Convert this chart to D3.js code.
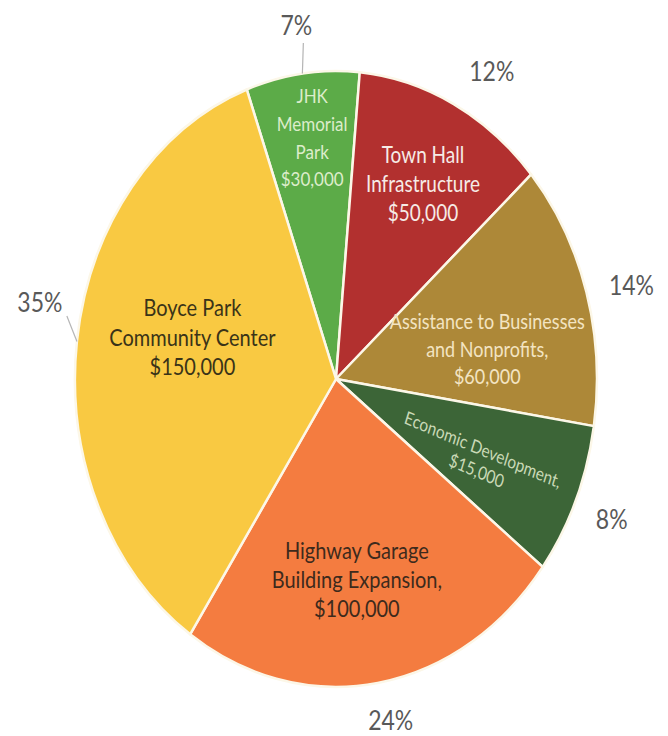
<!DOCTYPE html>
<html>
<head>
<meta charset="utf-8">
<script src="https://cdn.jsdelivr.net/npm/d3@7"></script>
<style>
  body { margin: 0; background: #fff; }
  svg { display: block; font-family: Lato, "Open Sans", sans-serif; }
</style>
</head>
<body>
<div id="chart"></div>
<script>
// Data
var categories = ["JHK Memorial Park", "Town Hall Infrastructure", "Assistance to Businesses and Nonprofits",
  "Economic Development", "Highway Garage Building Expansion", "Boyce Park Community Center"];
var shares = [7, 12, 14, 8, 24, 35];
var amounts = [30000, 50000, 60000, 15000, 100000, 150000];
var nameLines = [
  ["JHK", "Memorial", "Park"],
  ["Town Hall", "Infrastructure"],
  ["Assistance to Businesses", "and Nonprofits,"],
  ["Economic Development,"],
  ["Highway Garage", "Building Expansion,"],
  ["Boyce Park", "Community Center"]
];
var colors = ["#5cab48", "#b2302f", "#ad8838", "#3c6537", "#f47c40", "#f9c942"];
var textColors = ["#dcedcb", "#f6ebe6", "#f3e4c2", "#c9d9b6", "#3d2a1c", "#3a3318"];

// Layout
const svg = d3.select("#chart").append("svg").attr("width", 668).attr("height", 736);
const cx = 336, cy = 379, rx = 261, ry = 308;
const stretch = ry / rx;
const start = -20 * Math.PI / 180;

// per-label tweaks (Excel style manual placement)
const inner = [
  { dx: -3, dy: -52, size: 17, lh: 23.5, rot: 0 },
  { dx: 14, dy: -24, size: 19, lh: 24.6, rot: 0 },
  { dx: -4, dy: 24, size: 18, lh: 23.3, rot: 0 },
  { dx: -5, dy: 6, size: 15.5, lh: 19, rot: 19.6 },
  { dx: -5, dy: 12, size: 20, lh: 24.6, rot: 0 },
  { dx: 17, dy: -18, size: 20, lh: 25, rot: 0 }
];
const outer = [
  { dx: -2, dy: -11, leader: [7, 17] },
  { dx: 24, dy: 0 },
  { dx: 15, dy: 4 },
  { dx: 7, dy: 5 },
  { dx: 8, dy: 1 },
  { dx: -6, dy: -34, leader: [27, 13] }
];

const rows = categories.map((c, i) => ({ name: c, share: shares[i], amount: amounts[i], i: i }));

const pie = d3.pie().sort(null).value(d => d.share)
  .startAngle(start).endAngle(start + 2 * Math.PI);
const arcs = pie(rows);

const arc = d3.arc().innerRadius(0).outerRadius(1);
const arcIn = d3.arc().innerRadius(0.62).outerRadius(0.62);
const arcOut = d3.arc().innerRadius(1.12).outerRadius(1.12);
const arcEdge = d3.arc().innerRadius(1).outerRadius(1);

const toPx = p => [cx + p[0] * rx, cy + p[1] * ry];

// slices, drawn on a unit circle and stretched to the ellipse
svg.append("g")
  .attr("transform", `translate(${cx},${cy}) scale(${rx},${ry})`)
  .selectAll("path")
  .data(arcs)
  .join("path")
  .attr("d", arc)
  .attr("fill", d => colors[d.data.i])
  .attr("stroke", "#fcf7e8")
  .attr("stroke-width", 2.5)
  .attr("stroke-linejoin", "round")
  .attr("vector-effect", "non-scaling-stroke");

const fmt = d3.format("$,");

// inside labels
arcs.forEach(d => {
  const o = inner[d.data.i];
  const p = toPx(arcIn.centroid(d));
  const lines = nameLines[d.data.i].concat([fmt(d.data.amount)]);
  const g = svg.append("g")
    .attr("transform", `translate(${p[0] + o.dx},${p[1] + o.dy}) scale(1,${stretch}) rotate(${o.rot})`);
  const t = g.append("text")
    .attr("text-anchor", "middle")
    .attr("fill", textColors[d.data.i])
    .attr("font-size", o.size);
  lines.forEach((s, j) => {
    t.append("tspan")
      .attr("x", 0)
      .attr("y", (j - (lines.length - 1) / 2) * o.lh)
      .attr("dy", "0.35em")
      .text(s);
  });
});

// percentage labels outside
arcs.forEach(d => {
  const o = outer[d.data.i];
  const p = toPx(arcOut.centroid(d));
  const lx = p[0] + o.dx, ly = p[1] + o.dy;
  if (o.leader) {
    const e = toPx(arcEdge.centroid(d));
    svg.append("line")
      .attr("x1", lx + o.leader[0]).attr("y1", ly + o.leader[1])
      .attr("x2", e[0]).attr("y2", e[1])
      .attr("stroke", "#b5b5b5")
      .attr("stroke-width", 1.2);
  }
  svg.append("text")
    .attr("transform", `translate(${lx},${ly}) scale(1,${stretch})`)
    .attr("text-anchor", "middle")
    .attr("dy", "0.35em")
    .attr("fill", "#595959")
    .attr("font-size", 23)
    .text(d.data.share + "%");
});
</script>
</body>
</html>
